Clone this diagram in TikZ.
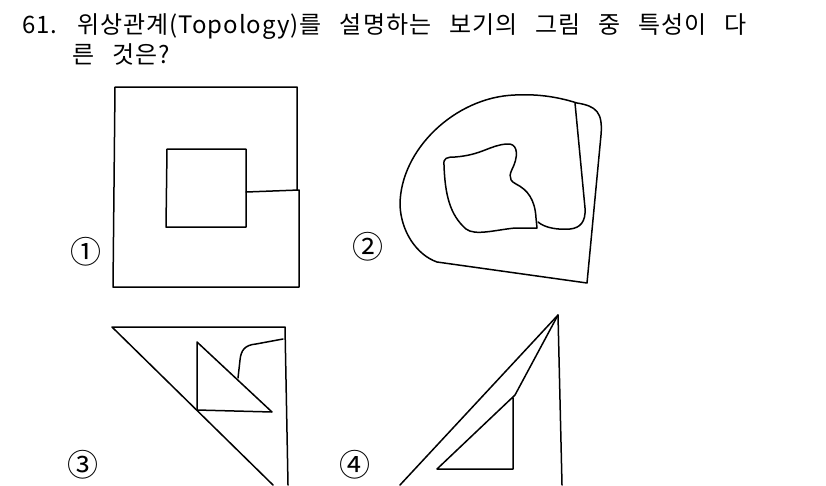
\documentclass[tikz,border=0pt]{standalone}
\usepackage{fontspec}
\setmainfont{Noto Sans CJK KR}
\usetikzlibrary{positioning}

\newcommand\qtextfont{\fontsize{24}{27}\selectfont\addfontfeature{LetterSpace=4}\spaceskip 18pt\relax}

\tikzset{
  figline/.style={line width=1.5pt,line join=round,line cap=round},
  title/.style={anchor=base west,inner sep=0pt,font=\qtextfont},
  num/.style={inner sep=0pt,font=\fontsize{31}{31}\selectfont}
}

\begin{document}
\begin{tikzpicture}[x=1pt,y=-1pt]
        \useasboundingbox (0,0) rectangle (826,485);
        % question
        \node[title] (q_1) at (22,33) {61. 위상관계(Topology)를 설명하는 보기의 그림 중 특성이 다};
        \node[title] (q_2) at (72,63) {른 것은?};
        % labels
        \node[num] (n_1) at (86,252) {①};
        \node[num] (n_2) at (368,247) {②};
        \node[num] (n_3) at (83,465) {③};
        \node[num] (n_4) at (355,465) {④};
        % figure 1
        \draw[figline] (297,190) -- (297,87) -- (115,87) -- (113,287) -- (299,287) -- (299,190) -- (246,192);
        \draw[figline] (167,149) -- (246,149) -- (246,227) -- (166,227) -- cycle;
        % figure 2
        \draw[figline] (437,262) -- (587,283) -- (601,135)
          .. controls (603,112) and (596,106) .. (577,103)
          .. controls (555,96) and (535,94) .. (515,95)
          .. controls (455,97) and (400,150) .. (400,205)
          .. controls (401,232) and (417,255) .. (437,262);
        \draw[figline] (575,103) -- (585,208)
          .. controls (586,222) and (580,228) .. (570,229)
          .. controls (558,230) and (545,228) .. (538,222);
        \draw[figline] (537,228) -- (536,218)
          .. controls (535,200) and (528,190) .. (516,184)
          .. controls (506,179) and (511,172) .. (514,165)
          .. controls (519,152) and (516,143) .. (507,144)
          .. controls (490,145) and (482,155) .. (455,157)
          .. controls (447,157) and (443,158) .. (444,165)
          .. controls (445,195) and (450,215) .. (466,229)
          .. controls (475,236) and (495,230) .. (515,228) -- cycle;
        % figure 3
        \draw[figline] (273,485) -- (112,327) -- (285,327) -- (288,485);
        \draw[figline] (197,342) -- (197,410) -- (272,412) -- cycle;
        \draw[figline] (238,378) -- (240,360)
          .. controls (241,350) and (245,345) .. (256,344)
          -- (283,339);
        % figure 4
        \draw[figline] (400,485) -- (558,315) -- (562,485);
        \draw[figline] (558,315) -- (515,395) -- (437,469) -- (513,469) -- (513,398);
\end{tikzpicture}
\end{document}
